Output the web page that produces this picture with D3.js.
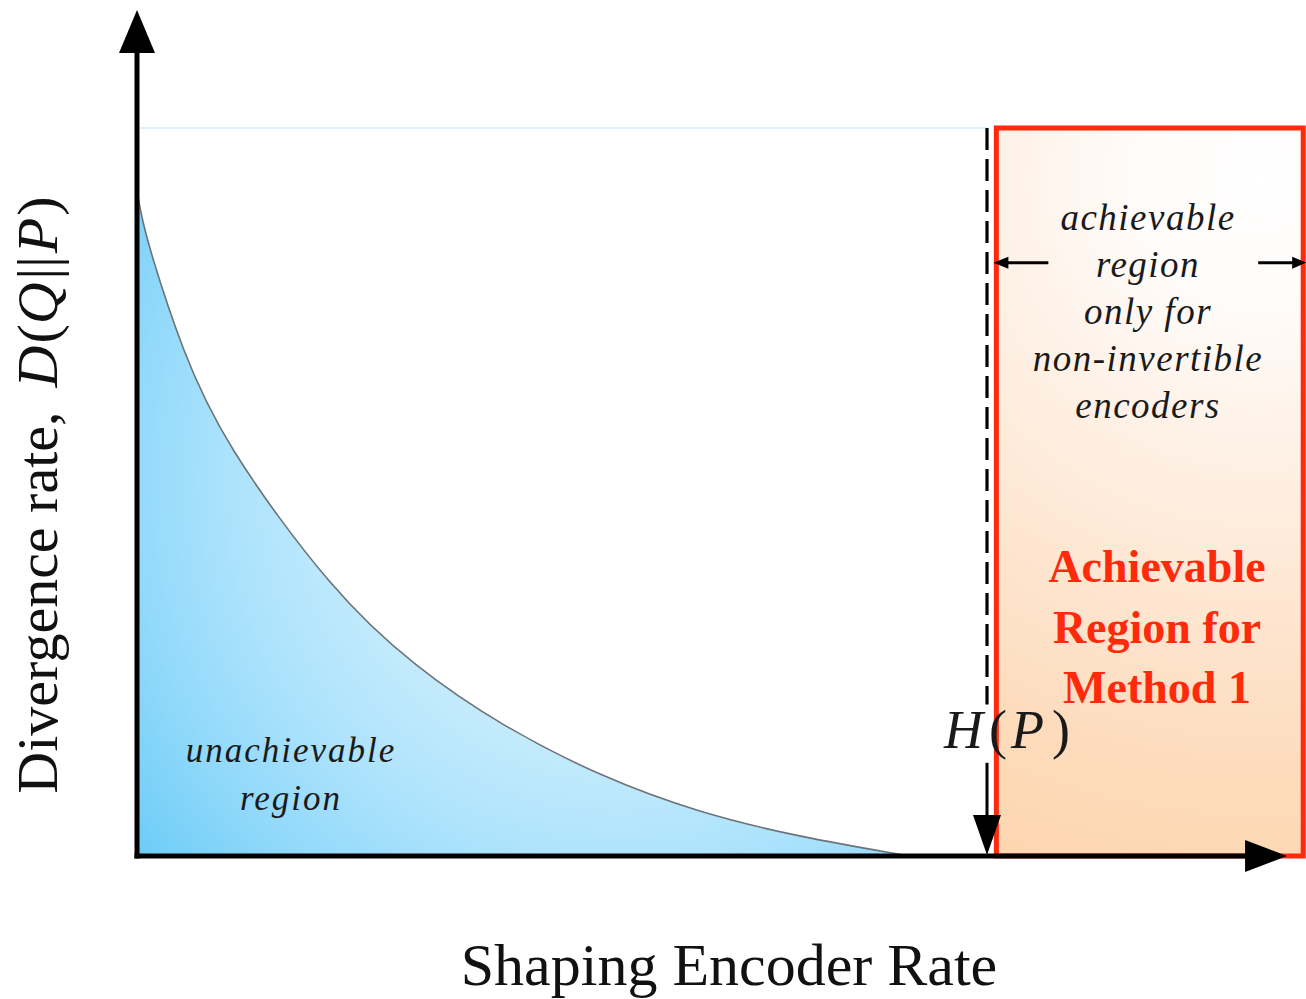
<!DOCTYPE html>
<html>
<head>
<meta charset="utf-8">
<script src="https://cdn.jsdelivr.net/npm/d3@7"></script>
<style>
  html, body { margin: 0; padding: 0; background: #ffffff; overflow: hidden; }
  svg { display: block; }
</style>
</head>
<body>
<svg id="chart" width="1306" height="999"></svg>
<script>
// Minimum divergence rate as a function of the shaping encoder rate
// (rate normalised so that H(P) = 1, divergence normalised to the plotted top).
const rate       = [0, 0.004, 0.015, 0.053, 0.101, 0.231, 0.329, 0.427, 0.545, 0.662, 0.780, 0.904];
const divergence = [0.915, 0.885, 0.832, 0.695, 0.569, 0.361, 0.258, 0.180, 0.109, 0.059, 0.026, 0.001];

const entropyRate   = 1;      // H(P)
const divergenceTop = 1;      // upper edge of the regions
const method1Start  = 1.011;  // Method 1 region, rate interval
const method1End    = 1.372;
const xAxisEnd      = 1.353;  // arrow tips
const yAxisEnd      = 1.162;
const arrowRow      = 0.815;  // height of the double arrow inside the Method 1 region
const dashEnd       = 0.208;  // dashed marker stops above the H(P) label
const pointerTop    = 0.128;  // start of the H(P) pointer

const xTitle = "Shaping Encoder Rate";
const yTitleWords = "Divergence rate,";
const unachievableLines = ["unachievable", "region"];
const nonInvertibleLines = ["achievable", "region", "only for", "non-invertible", "encoders"];
const method1Lines = ["Achievable", "Region for", "Method 1"];

const svg = d3.select("#chart");
const x = d3.scaleLinear().domain([0, 1]).range([137, 987]);
const y = d3.scaleLinear().domain([0, 1]).range([856, 128]);

const defs = svg.append("defs");

// light-blue shading of the unachievable region
const blue = defs.append("radialGradient").attr("id", "blueFill")
  .attr("gradientUnits", "userSpaceOnUse")
  .attr("cx", 620).attr("cy", 480).attr("r", 660);
[[0, "#f2fbff"], [0.3, "#d2f0fd"], [0.58, "#aee3fc"], [0.76, "#8fd8fa"], [0.9, "#72cef7"], [1, "#52c2f3"]]
  .forEach(([o, c]) => blue.append("stop").attr("offset", o).attr("stop-color", c));

// peach shading of the Method 1 region
const peach = defs.append("radialGradient").attr("id", "peachFill")
  .attr("gradientUnits", "userSpaceOnUse")
  .attr("cx", 1260).attr("cy", 180).attr("r", 780);
[[0, "#ffffff"], [0.15, "#fffcfa"], [0.35, "#fef1e6"], [0.55, "#fee6d1"], [0.75, "#fddcbd"], [0.9, "#fdd7b1"], [1, "#fcd3a9"]]
  .forEach(([o, c]) => peach.append("stop").attr("offset", o).attr("stop-color", c));

// Method 1 region
svg.append("rect")
  .attr("x", x(method1Start))
  .attr("y", y(divergenceTop))
  .attr("width", x(method1End) - x(method1Start))
  .attr("height", y(0) - y(divergenceTop))
  .attr("fill", "url(#peachFill)")
  .attr("stroke", "#ff2a0c")
  .attr("stroke-width", 5);

// unachievable region below the curve
const pts = rate.map((r, i) => [r, divergence[i]]);
const smooth = d3.curveBasis;
svg.append("path")
  .datum(pts)
  .attr("fill", "url(#blueFill)")
  .attr("d", d3.area().x(d => x(d[0])).y0(y(0)).y1(d => y(d[1])).curve(smooth));
svg.append("path")
  .datum(pts)
  .attr("fill", "none")
  .attr("stroke", "#6b7378")
  .attr("stroke-width", 1.6)
  .attr("d", d3.line().x(d => x(d[0])).y(d => y(d[1])).curve(smooth));

// faint line at the top of the regions
svg.append("line")
  .attr("x1", x(0)).attr("x2", x(entropyRate))
  .attr("y1", y(divergenceTop)).attr("y2", y(divergenceTop))
  .attr("stroke", "#dcf1fc").attr("stroke-width", 2);

// dashed marker at H(P)
svg.append("line")
  .attr("x1", x(entropyRate)).attr("x2", x(entropyRate))
  .attr("y1", y(divergenceTop)).attr("y2", y(dashEnd))
  .attr("stroke", "#000").attr("stroke-width", 3.2)
  .attr("stroke-dasharray", "22,9");

// pointer from the H(P) label down to the axis
svg.append("line")
  .attr("x1", x(entropyRate)).attr("x2", x(entropyRate))
  .attr("y1", y(pointerTop)).attr("y2", y(0) - 36)
  .attr("stroke", "#000").attr("stroke-width", 3);
svg.append("path")
  .attr("d", d3.line()([[x(entropyRate) - 14, y(0) - 41], [x(entropyRate) + 14, y(0) - 41], [x(entropyRate), y(0) - 1]]) + "Z")
  .attr("fill", "#000");

// double arrow spanning the Method 1 region
const ay = y(arrowRow);
const leftEnd = x(method1Start), rightEnd = x(method1End) - 1;
svg.append("line").attr("x1", leftEnd + 4).attr("x2", leftEnd + 52).attr("y1", ay).attr("y2", ay)
  .attr("stroke", "#000").attr("stroke-width", 3);
svg.append("line").attr("x1", rightEnd - 44).attr("x2", rightEnd - 4).attr("y1", ay).attr("y2", ay)
  .attr("stroke", "#000").attr("stroke-width", 3);
svg.append("path").attr("d", d3.line()([[leftEnd + 12, ay - 6], [leftEnd + 12, ay + 6], [leftEnd - 3, ay]]) + "Z").attr("fill", "#000");
svg.append("path").attr("d", d3.line()([[rightEnd - 10, ay - 6], [rightEnd - 10, ay + 6], [rightEnd + 4, ay]]) + "Z").attr("fill", "#000");

// axes with arrow heads
svg.append("line")
  .attr("x1", x(0)).attr("x2", x(0))
  .attr("y1", y(0) + 2.5).attr("y2", y(yAxisEnd) + 40)
  .attr("stroke", "#000").attr("stroke-width", 5);
svg.append("path")
  .attr("d", d3.line()([[x(0) - 18, y(yAxisEnd) + 43], [x(0) + 18, y(yAxisEnd) + 43], [x(0), y(yAxisEnd)]]) + "Z")
  .attr("fill", "#000");
svg.append("line")
  .attr("x1", x(0) - 2.5).attr("x2", x(xAxisEnd) - 38)
  .attr("y1", y(0)).attr("y2", y(0))
  .attr("stroke", "#000").attr("stroke-width", 5);
svg.append("path")
  .attr("d", d3.line()([[x(xAxisEnd) - 42, y(0) - 16], [x(xAxisEnd) - 42, y(0) + 16], [x(xAxisEnd), y(0)]]) + "Z")
  .attr("fill", "#000");

const serif = "'Liberation Serif', 'Times New Roman', serif";

// region labels
svg.append("g").selectAll("text").data(unachievableLines).join("text")
  .attr("x", 291).attr("y", (d, i) => 762 + i * 48)
  .attr("text-anchor", "middle")
  .attr("font-family", serif).attr("font-style", "italic")
  .attr("font-size", 35).attr("letter-spacing", 2)
  .attr("fill", "#1a1a1a")
  .text(d => d);

svg.append("g").selectAll("text").data(nonInvertibleLines).join("text")
  .attr("x", 1148).attr("y", (d, i) => 230 + i * 47)
  .attr("text-anchor", "middle")
  .attr("font-family", serif).attr("font-style", "italic")
  .attr("font-size", 37).attr("letter-spacing", 1.5)
  .attr("fill", "#1a1a1a")
  .text(d => d);

svg.append("g").selectAll("text").data(method1Lines).join("text")
  .attr("x", 1157).attr("y", (d, i) => 582 + i * 60.5)
  .attr("text-anchor", "middle")
  .attr("font-family", serif).attr("font-weight", "bold")
  .attr("font-size", 46)
  .attr("fill", "#ff2a0c")
  .text(d => d);

// H(P) label
const hp = svg.append("text")
  .attr("x", 944).attr("y", 748)
  .attr("font-family", serif).attr("font-size", 54).attr("fill", "#1a1a1a");
hp.append("tspan").attr("font-style", "italic").text("H");
hp.append("tspan").attr("dx", 6).text("(");
hp.append("tspan").attr("dx", 4).attr("font-style", "italic").text("P");
hp.append("tspan").attr("dx", 8).text(")");

// axis titles
svg.append("text")
  .attr("x", 729).attr("y", 985)
  .attr("text-anchor", "middle")
  .attr("font-family", serif).attr("font-size", 60).attr("fill", "#111")
  .text(xTitle);

const yt = svg.append("text")
  .attr("transform", "translate(57,495) rotate(-90)")
  .attr("text-anchor", "middle")
  .attr("font-family", serif).attr("font-size", 58).attr("fill", "#111");
yt.append("tspan").text(yTitleWords);
yt.append("tspan").attr("dx", 24).attr("font-style", "italic").text("D");
yt.append("tspan").attr("dx", 2).text("(");
yt.append("tspan").attr("font-style", "italic").text("Q");
yt.append("tspan").attr("dx", 3).text("||");
yt.append("tspan").attr("dx", 3).attr("font-style", "italic").text("P");
yt.append("tspan").attr("dx", 2).text(")");
</script>
</body>
</html>
